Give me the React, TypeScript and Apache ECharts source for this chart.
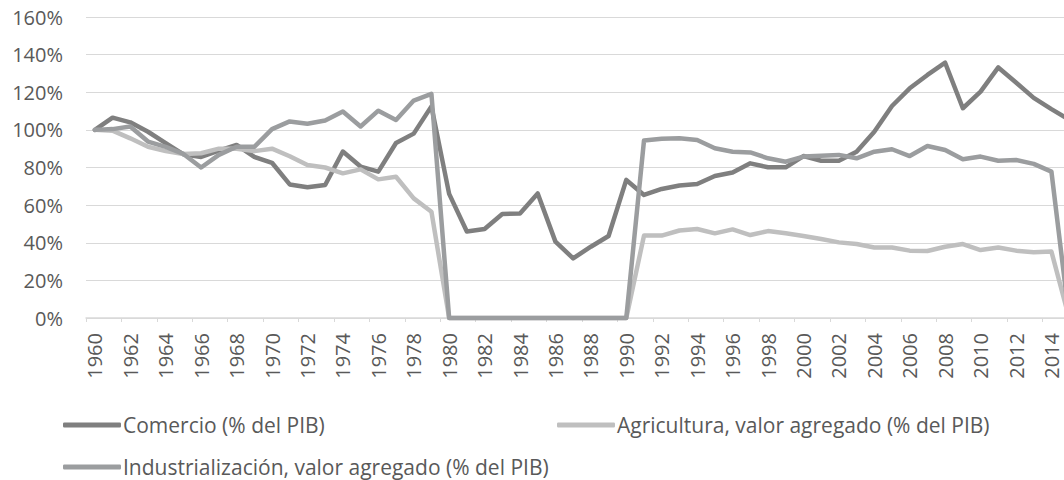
import React, { useEffect, useRef } from "react";
import * as echarts from "echarts";

const years = [
  "1960", "1961", "1962", "1963", "1964", "1965", "1966", "1967", "1968", "1969",
  "1970", "1971", "1972", "1973", "1974", "1975", "1976", "1977", "1978", "1979",
  "1980", "1981", "1982", "1983", "1984", "1985", "1986", "1987", "1988", "1989",
  "1990", "1991", "1992", "1993", "1994", "1995", "1996", "1997", "1998", "1999",
  "2000", "2001", "2002", "2003", "2004", "2005", "2006", "2007", "2008", "2009",
  "2010", "2011", "2012", "2013", "2014", "2015",
];

const comercio = [
  100, 106.5, 104, 99, 93, 87, 85.6, 89, 92, 85.6,
  82.5, 71, 69.5, 70.7, 88.5, 80.5, 77.8, 93, 98, 112.5,
  66, 46, 47.3, 55.3, 55.6, 66.2, 40.6, 31.7, 37.9, 43.6,
  73.4, 65.4, 68.6, 70.4, 71.2, 75.5, 77.3, 82.2, 80.1, 80.1,
  86.1, 83.6, 83.6, 88.4, 99, 112.7, 122.1, 129.2, 135.7, 111.5,
  120.3, 133.2, 125.2, 117, 111, 105.5,
];

const agricultura = [
  100, 99.6, 95.5, 91, 88.7, 87.2, 87.6, 90, 90, 88.7,
  90, 86, 81.3, 80, 76.9, 79, 73.7, 75.1, 63.6, 56.5,
  0, 0, 0, 0, 0, 0, 0, 0, 0, 0,
  0, 43.8, 43.8, 46.5, 47.3, 45, 47.1, 44.1, 46.2, 45,
  43.6, 42, 40.2, 39.3, 37.5, 37.5, 35.8, 35.6, 37.9, 39.3,
  36.1, 37.5, 35.8, 34.9, 35.3, 0,
];

const industria = [
  100, 100.4, 101.8, 93.8, 91, 87.2, 80, 86.7, 91, 91,
  100.4, 104.5, 103.3, 105, 109.8, 101.8, 110.2, 105.3, 115.6, 119.1,
  0, 0, 0, 0, 0, 0, 0, 0, 0, 0,
  0, 94.3, 95.3, 95.5, 94.6, 90.2, 88.4, 88, 84.9, 83.1,
  85.8, 86.3, 86.7, 84.9, 88.4, 89.7, 86.1, 91.4, 89.3, 84.4,
  85.8, 83.6, 84, 81.9, 77.8, 0,
];

const yTicks = { min: 0, max: 160, interval: 20 };

const seriesNames = [
  "Comercio (% del PIB)",
  "Agricultura, valor agregado (% del PIB)",
  "Industrialización, valor agregado (% del PIB)",
];
const seriesColors = ["#7f7f7f", "#bfbfbf", "#9b9d9f"];

const FONT = "'Open Sans', sans-serif";
const TEXT = "#595959";
const GRID = "#d9d9d9";

export default function App() {
  const ref = useRef<HTMLDivElement>(null);

  useEffect(() => {
    if (!ref.current) return;
    const chart = echarts.init(ref.current, undefined, { renderer: "svg" });
    const values = [comercio, agricultura, industria];
    const legendPos = [
      { left: 63, top: 414 },
      { left: 557, top: 414 },
      { left: 63, top: 456 },
    ];
    chart.setOption({
      animation: false,
      backgroundColor: "#ffffff",
      grid: {
        left: 86,
        right: -14,
        top: 17,
        bottom: 162,
        containLabel: false,
        outerBoundsMode: "none",
      },
      xAxis: {
        type: "category",
        data: years,
        boundaryGap: true,
        axisLine: { show: true, lineStyle: { color: GRID, width: 1.5 } },
        axisTick: { show: true, interval: 1, length: 4, lineStyle: { color: GRID } },
        axisLabel: {
          interval: 1,
          rotate: 90,
          margin: 15,
          color: TEXT,
          fontFamily: FONT,
          fontSize: 20,
          padding: [10, 0, 0, 0],
        },
        splitLine: { show: false },
      },
      yAxis: {
        type: "value",
        min: yTicks.min,
        max: yTicks.max,
        interval: yTicks.interval,
        axisLine: { show: false },
        axisTick: { show: false },
        axisLabel: {
          formatter: "{value}%",
          margin: 23,
          color: TEXT,
          fontFamily: FONT,
          fontSize: 20,
          padding: [12, 0, 0, 0],
        },
        splitLine: { show: true, lineStyle: { color: GRID, width: 1 } },
      },
      legend: seriesNames.map((name, i) => ({
        data: [name],
        left: legendPos[i].left,
        top: legendPos[i].top,
        icon: "roundRect",
        itemWidth: 58,
        itemHeight: 5,
        padding: 0,
        selectedMode: false,
        textStyle: { color: TEXT, fontFamily: FONT, fontSize: 21, lineHeight: 22, padding: [0, 0, 0, -3] },
      })),
      series: seriesNames.map((name, i) => ({
        name,
        type: "line",
        data: values[i],
        showSymbol: false,
        symbol: "none",
        color: seriesColors[i],
        lineStyle: { color: seriesColors[i], width: 4.5, join: "round", cap: "round" },
        clip: false,
      })),
    });
    return () => chart.dispose();
  }, []);

  return (
    <div
      ref={ref}
      style={{ position: "fixed", left: 0, top: 0, width: 1064, height: 480, background: "#fff" }}
    />
  );
}
